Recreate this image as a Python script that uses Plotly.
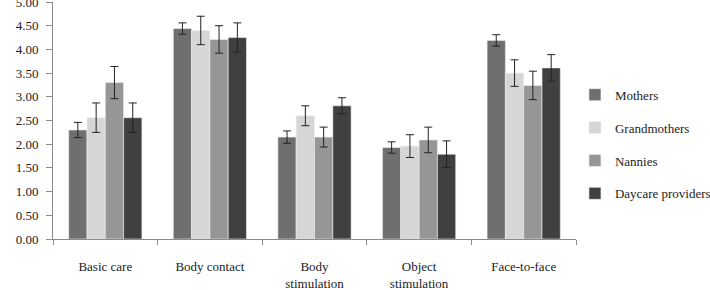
import plotly.graph_objects as go

categories = ["Basic care", "Body contact", "Body<br>stimulation", "Object<br>stimulation", "Face-to-face"]
series_names = ["Mothers", "Grandmothers", "Nannies", "Daycare providers"]
mothers = [2.30, 4.44, 2.15, 1.93, 4.19]
grandmothers = [2.56, 4.40, 2.60, 1.96, 3.50]
nannies = [3.30, 4.21, 2.15, 2.09, 3.24]
daycare = [2.56, 4.25, 2.81, 1.79, 3.61]
mothers_err = [0.16, 0.12, 0.13, 0.12, 0.12]
grandmothers_err = [0.31, 0.30, 0.21, 0.24, 0.28]
nannies_err = [0.34, 0.29, 0.21, 0.27, 0.30]
daycare_err = [0.31, 0.31, 0.17, 0.28, 0.28]
y_ticks = [0, 0.5, 1, 1.5, 2, 2.5, 3, 3.5, 4, 4.5, 5]

values = [mothers, grandmothers, nannies, daycare]
errors = [mothers_err, grandmothers_err, nannies_err, daycare_err]
colors = ["#6e6f71", "#d5d6d7", "#959698", "#3f4042"]

FONT = "Liberation Serif, Times New Roman, serif"

fig = go.Figure()
for i, name in enumerate(series_names):
    fig.add_trace(go.Bar(
        x=categories, y=values[i], name=name, legendgroup=name,
        marker=dict(color=colors[i], line=dict(width=0.6, color="#f0f0f0")),
        error_y=dict(type="data", array=errors[i], visible=True,
                     color="#222222", thickness=1, width=4),
    ))

fig.update_layout(
    width=710, height=290,
    margin=dict(l=53, r=134, t=2, b=51, autoexpand=False),
    paper_bgcolor="white", plot_bgcolor="white",
    barmode="group", bargap=0.30, bargroupgap=0,
    font=dict(family=FONT, size=13, color="#222222"),
    showlegend=True,
    legend=dict(x=0.998, xanchor="left", y=0.40, yanchor="middle",
                tracegroupgap=13, font=dict(family=FONT, size=13, color="#222222"),
                itemwidth=30),
)
fig.update_xaxes(
    showline=True, linecolor="#8a8a8a", linewidth=1,
    ticks="outside", tickson="boundaries", ticklen=5, tickcolor="#8a8a8a",
    showgrid=False, ticklabelstandoff=15, automargin=False,
    tickfont=dict(family=FONT, size=13, color="#222222"),
)
fig.update_yaxes(
    range=[0, 5], tickvals=y_ticks, tickformat=".2f",
    showline=True, linecolor="#8a8a8a", linewidth=1,
    ticks="outside", ticklen=6, tickcolor="#8a8a8a",
    showgrid=False, zeroline=False, ticklabelstandoff=5,
    ticklabeloverflow="allow", automargin=False,
    tickfont=dict(family=FONT, size=13, color="#222222"),
)

fig.write_html("out.html")
